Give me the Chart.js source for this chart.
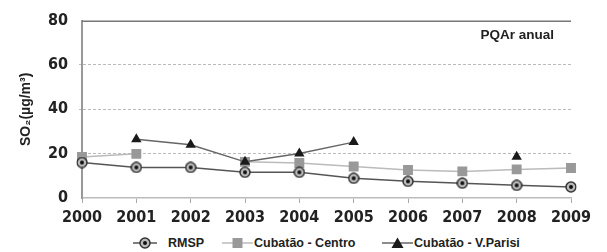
<!DOCTYPE html>
<html>
<head>
<meta charset="utf-8">
<script src="https://cdn.jsdelivr.net/npm/chart.js@4.4.1/dist/chart.umd.min.js"></script>
<style>
    body { margin: 0; background: #fff; }
    #wrap { width: 607px; height: 252px; position: relative; }
    #chart { display: block; }
    #legend { position: absolute; left: 0; top: 233px; width: 607px; height: 20px; font: bold 12.5px "Liberation Sans", Arial, sans-serif; color: #222; }
    .item { position: absolute; top: 0; height: 20px; line-height: 20px; white-space: nowrap; }
    .item canvas { position: absolute; top: 4px; }
    .item span { position: absolute; top: 0; }
</style>
</head>
<body>
<div id="wrap">
    <canvas id="chart" width="607" height="230"></canvas>
    <div id="legend"></div>
</div>
<script>
const years = ['2000', '2001', '2002', '2003', '2004', '2005', '2006', '2007', '2008', '2009'];
const rmsp = [16.0, 13.8, 13.8, 11.6, 11.6, 8.9, 7.5, 6.7, 5.7, 5.0];
const centro = [18.5, 19.9, null, 16.3, 15.8, 14.2, 12.6, 12.0, 12.9, 13.5];
const parisi = [null, 26.5, 24.0, 16.3, 20.1, 25.2, null, null, 18.6, null];
const pqar = [80, 80, 80, 80, 80, 80, 80, 80, 80, 80];
const yTicks = [0, 20, 40, 60, 80];

const narrow = '"Liberation Sans Narrow", "Arial Narrow", "DejaVu Sans Condensed", sans-serif';
const sans = '"Liberation Sans", Arial, sans-serif';

// marcador do RMSP: circulo com anel claro e ponto escuro
function rmspMarker() {
    const c = document.createElement('canvas');
    c.width = 12; c.height = 12;
    const g = c.getContext('2d');
    g.beginPath(); g.arc(6, 6, 5, 0, Math.PI * 2);
    g.fillStyle = '#bbb'; g.fill();
    g.lineWidth = 1.5; g.strokeStyle = '#333'; g.stroke();
    g.beginPath(); g.arc(6, 6, 2, 0, Math.PI * 2);
    g.fillStyle = '#111'; g.fill();
    return c;
}
const marker = rmspMarker();

const pqarLabel = {
    id: 'pqarLabel',
    afterDatasetsDraw(chart) {
        const { ctx, chartArea } = chart;
        const y = chart.scales.y.getPixelForValue(80);
        ctx.save();
        ctx.font = 'bold 13.5px ' + sans;
        ctx.fillStyle = '#222';
        ctx.textAlign = 'right';
        ctx.textBaseline = 'middle';
        ctx.fillText('PQAr anual', chartArea.right - 17, y + 15);
        ctx.restore();
    }
};

new Chart(document.getElementById('chart'), {
    type: 'line',
    data: {
        labels: years,
        datasets: [
            { label: 'PQAr', data: pqar, borderColor: '#777', borderWidth: 3, pointRadius: 0, order: 4 },
            { label: 'Cubatão - Centro', data: centro, borderColor: '#bbb', borderWidth: 1.5, pointStyle: 'rect', pointRadius: 7, pointBackgroundColor: '#999', pointBorderWidth: 0, order: 3 },
            { label: 'Cubatão - V.Parisi', data: parisi, borderColor: '#666', borderWidth: 1.5, pointStyle: 'triangle', pointRadius: 6, pointBackgroundColor: '#1a1a1a', pointBorderWidth: 0, order: 2 },
            { label: 'RMSP', data: rmsp, borderColor: '#555', borderWidth: 1.5, pointStyle: marker, order: 1 }
        ]
    },
    options: {
        responsive: false,
        animation: false,
        spanGaps: false,
        layout: { padding: { top: 14, right: 36, left: 0, bottom: 0 } },
        plugins: { legend: { display: false }, tooltip: { enabled: false } },
        scales: {
            x: {
                offset: false,
                grid: { drawOnChartArea: false, drawTicks: true, tickLength: 5, color: '#aaa' },
                border: { color: '#bbb', width: 1.5 },
                ticks: { color: '#222', font: { family: narrow, size: 16, weight: 'bold' }, padding: 5, maxRotation: 0 },
                afterFit(s) { s.height = 32; }
            },
            y: {
                min: 0, max: 80,
                afterBuildTicks(s) { s.ticks = yTicks.map(v => ({ value: v })); },
                grid: { color: ctx => (ctx.tick && (ctx.tick.value === 0 || ctx.tick.value === 80)) ? 'rgba(0,0,0,0)' : '#bbb', lineWidth: 1, tickLength: 3, drawTicks: true },
                border: { color: '#999', width: 2, dash: [3, 2] },
                ticks: { color: '#222', font: { family: narrow, size: 16, weight: 'bold' }, padding: 11 },
                title: { display: true, text: 'SO₂(µg/m³)', color: '#222', font: { family: sans, size: 14, weight: 'bold' }, padding: { top: 18, bottom: 0 } },
                afterFit(s) { s.width = 82; }
            }
        }
    },
    plugins: [pqarLabel]
});

// legenda
const legendItems = [
    { text: 'RMSP', x: 133, w: 24, tx: 168, line: '#555', mark: 'rmsp' },
    { text: 'Cubatão - Centro', x: 222, w: 31, tx: 254, line: '#bbb', mark: 'rect' },
    { text: 'Cubatão - V.Parisi', x: 382, w: 31, tx: 414, line: '#666', mark: 'tri' }
];
const legend = document.getElementById('legend');
legendItems.forEach(it => {
    const d = document.createElement('div');
    d.className = 'item';
    d.style.left = it.x + 'px';
    const c = document.createElement('canvas');
    c.width = it.w; c.height = 12;
    const g = c.getContext('2d');
    g.strokeStyle = it.line; g.lineWidth = 1.5;
    g.beginPath(); g.moveTo(0, 6); g.lineTo(it.w, 6); g.stroke();
    const cx = it.w / 2;
    if (it.mark === 'rmsp') g.drawImage(marker, cx - 6, 0);
    if (it.mark === 'rect') { g.fillStyle = '#999'; g.fillRect(cx - 5, 1, 10, 10); }
    if (it.mark === 'tri') { g.fillStyle = '#1a1a1a'; g.beginPath(); g.moveTo(cx, 0.5); g.lineTo(cx + 6, 11); g.lineTo(cx - 6, 11); g.closePath(); g.fill(); }
    d.appendChild(c);
    const s = document.createElement('span');
    s.textContent = it.text;
    s.style.left = (it.tx - it.x) + 'px';
    d.appendChild(s);
    legend.appendChild(d);
});
</script>
</body>
</html>
